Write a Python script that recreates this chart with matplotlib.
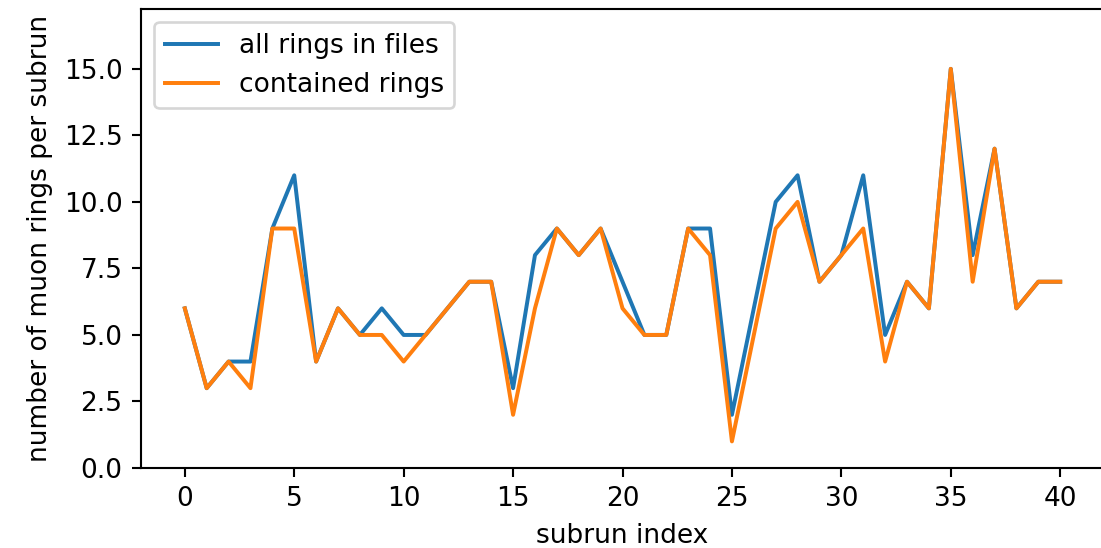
import numpy as np
import matplotlib.pyplot as plt

subrun = list(range(41))
all_rings = [6, 3, 4, 4, 9, 11, 4, 6, 5, 6, 5, 5, 6, 7, 7, 3, 8, 9, 8, 9,
             7, 5, 5, 9, 9, 2, 6, 10, 11, 7, 8, 11, 5, 7, 6, 15, 8, 12, 6, 7, 7]
contained = [6, 3, 4, 3, 9, 9, 4, 6, 5, 5, 4, 5, 6, 7, 7, 2, 6, 9, 8, 9,
             6, 5, 5, 9, 8, 1, 5, 9, 10, 7, 8, 9, 4, 7, 6, 15, 7, 12, 6, 7, 7]

fig = plt.figure(figsize=(1101 / 190, 548 / 190), dpi=190)
ax = fig.add_subplot(111)
ax.plot(subrun, all_rings, label="all rings in files")
ax.plot(subrun, contained, label="contained rings")
ax.set_ylim(0, max(all_rings) * 1.15)
ax.set_xlabel("subrun index")
ax.set_ylabel("number of muon rings per subrun")
ax.legend(loc="upper left")
fig.subplots_adjust(left=0.1281, right=1.0027, bottom=0.146, top=0.9836)
plt.savefig("out.png")
plt.close()
